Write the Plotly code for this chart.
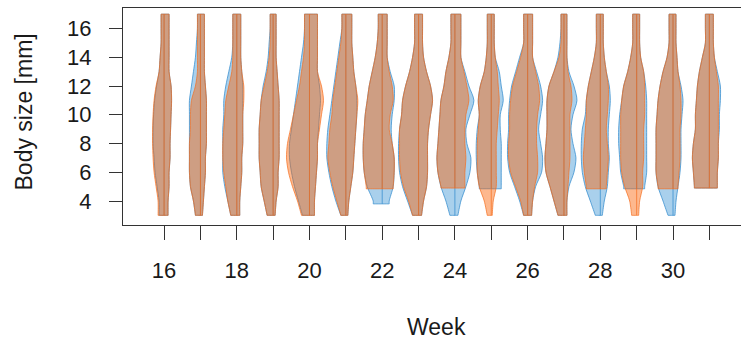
import plotly.graph_objects as go

# Weekly body-size distributions of two groups, drawn as overlapping violins.
WEEKS = list(range(16, 32))
SIZE_LEVELS = list(range(3, 18))          # body size [mm] at which densities are given
SIZE_MAX = 17

ORANGE_MIN = [3, 3, 3, 3, 3, 3, 4.85, 3, 4.9, 3, 3, 3, 4.85, 3, 4.85, 4.9]
BLUE_MIN = [3, 3, 3, 3, 3, 3, 3.8, 3, 3, 4.85, 3, 3, 3, 4.85, 3, 4.9]

# Density (arbitrary units) on the left / right side of each week's centre line.
ORANGE_LEFT = [
    [6, 6, 8, 10, 11, 11.5, 11.5, 11, 10, 8, 5, 4, 3, 3, 3],
    [5, 7, 10, 11, 11, 11, 10, 10, 9, 5, 3, 3, 3, 3, 3],
    [6, 9, 11, 13, 14, 14, 13, 12, 11, 8, 5, 4, 4, 4, 4],
    [6, 9, 12, 13, 14, 14, 14, 13, 12, 9, 6, 4, 3, 3, 3],
    [8, 12, 17, 21, 23, 22, 19, 16, 13, 10, 8, 6, 5, 5, 5],
    [5, 9, 13, 16, 18, 17, 16, 14, 13, 11, 9, 7, 5, 4, 4],
    [None, None, 16, 18, 19, 19, 18, 17, 15, 13, 10, 7, 5, 4, 4],
    [6, 10, 15, 18, 19, 19, 19, 17, 16, 13, 9, 6, 4, 4, 4],
    [None, None, 14, 17, 18, 17, 16, 15, 14, 11, 9, 6, 4, 4, 4],
    [4, 7, 12, 14, 14, 14, 13, 12, 13, 11, 7, 5, 4, 4, 4],
    [4, 7, 12, 17, 19, 19, 18, 18, 17, 15, 11, 7, 4, 4, 4],
    [6, 10, 14, 18, 19, 18, 17, 17, 17, 15, 10, 5, 3, 3, 3],
    [None, None, 14, 16, 17, 16, 15, 14, 14, 12, 9, 6, 4, 4, 4],
    [5, 7, 12, 15, 16, 16, 16, 16, 15, 13, 9, 6, 4, 4, 4],
    [None, None, 15, 17, 17, 17, 17, 16, 15, 13, 10, 6, 4, 4, 4],
    [None, None, 15, 16, 17, 16, 14, 14, 13, 12, 10, 7, 4, 4, 4],
]
ORANGE_RIGHT = [
    [4, 4, 5, 5, 6, 6, 6.5, 7, 7.5, 7, 5, 5, 5, 5, 5],
    [2, 3, 4, 5, 5, 6, 6, 6, 6, 5, 4, 4, 4, 4, 4],
    [3, 3, 4, 5, 5, 6, 6, 6, 7, 7, 5, 4, 4, 4, 4],
    [2, 3, 5, 5, 6, 6, 6, 6, 6, 5, 4, 3, 3, 3, 3],
    [5, 5, 6, 7, 8, 8, 10, 12, 14, 12, 8, 8, 8, 8, 8],
    [2, 3, 5, 7, 8, 9, 10, 11, 12, 10, 8, 7, 6, 6, 6],
    [None, None, 11, 12, 12, 10, 7, 8, 11, 10, 7, 5, 5, 5, 5],
    [3, 5, 8, 9, 9, 9, 10, 12, 14, 12, 8, 5, 4, 4, 4],
    [None, None, 10, 10, 11, 10, 10, 11, 14, 12, 9, 6, 6, 6, 6],
    [1, 2, 5, 5, 5, 5, 6, 7, 8, 7, 6, 4, 3, 3, 3],
    [4, 5, 7, 10, 10, 9, 9, 10, 12, 11, 8, 5, 5, 5, 5],
    [3, 3, 4, 5, 6, 6, 6, 6, 8, 7, 4, 3, 3, 3, 3],
    [None, None, 6, 7, 8, 7, 6, 7, 8, 8, 6, 4, 3, 3, 3],
    [2, 3, 6, 6, 7, 7, 7, 8, 8, 8, 7, 4, 3, 3, 3],
    [None, None, 5, 6, 7, 7, 7, 8, 8, 7, 5, 4, 3, 3, 3],
    [None, None, 8, 8, 9, 9, 9, 9, 9, 9, 7, 5, 4, 4, 4],
]
BLUE_LEFT = [
    [5, 5, 7, 9, 10, 11, 11, 10.5, 9.5, 7.5, 5, 4, 3, 3, 3],
    [5, 7, 10, 11, 11, 11, 11, 11, 11, 9, 7, 5, 4, 3, 3],
    [6, 9, 12, 14, 14, 14, 14, 13, 13, 11, 8, 5, 4, 4, 4],
    [6, 9, 12, 13, 14, 14, 14, 13, 12, 10, 7, 5, 4, 3, 3],
    [7, 11, 15, 18, 20, 20, 18, 16, 14, 12, 10, 8, 6, 5, 5],
    [5, 10, 14, 17, 19, 19, 18, 16, 14, 12, 10, 8, 6, 4, 4],
    [None, 9, 15, 18, 19, 19, 18, 17, 15, 13, 10, 7, 5, 4, 4],
    [6, 11, 16, 19, 20, 20, 19, 17, 16, 13, 9, 6, 4, 4, 4],
    [5, 9, 14, 17, 18, 17, 16, 15, 14, 11, 9, 6, 4, 4, 4],
    [None, None, 12, 14, 15, 15, 14, 12, 13, 11, 7, 5, 4, 4, 4],
    [4, 8, 13, 18, 20, 20, 19, 19, 18, 16, 12, 8, 4, 4, 4],
    [6, 10, 14, 18, 19, 18, 17, 17, 17, 15, 10, 6, 4, 3, 3],
    [5, 10, 15, 18, 19, 19, 18, 15, 14, 12, 9, 6, 4, 4, 4],
    [None, None, 13, 16, 17, 18, 18, 17, 15, 13, 9, 6, 4, 4, 4],
    [5, 10, 15, 17, 17, 17, 17, 16, 15, 13, 10, 6, 4, 4, 4],
    [None, None, 15, 16, 17, 16, 14, 14, 13, 12, 10, 7, 4, 4, 4],
]
BLUE_RIGHT = [
    [4, 4, 5, 5, 6, 6, 6.5, 7, 7.5, 7, 5, 5, 5, 5, 5],
    [2, 3, 4, 5, 5, 6, 6, 6, 6, 5, 4, 4, 4, 4, 4],
    [3, 3, 4, 5, 5, 6, 6, 6, 6, 6, 5, 4, 4, 4, 4],
    [2, 3, 5, 5, 6, 6, 6, 6, 6, 5, 4, 3, 3, 3, 3],
    [5, 5, 6, 7, 8, 8, 9, 10, 11, 10, 8, 8, 8, 8, 8],
    [2, 3, 5, 7, 8, 9, 10, 11, 11, 10, 8, 7, 6, 6, 6],
    [None, 7, 11, 12, 12, 10, 9, 10, 12, 12, 8, 5, 5, 5, 5],
    [3, 5, 8, 9, 9, 9, 10, 12, 14, 12, 8, 5, 4, 4, 4],
    [3, 6, 11, 15, 16, 12, 11, 15, 19, 14, 10, 6, 6, 6, 6],
    [None, None, 10, 10, 10, 10, 9, 9, 12, 10, 8, 4, 3, 3, 3],
    [4, 5, 8, 14, 15, 13, 11, 13, 15, 13, 9, 5, 5, 5, 5],
    [3, 3, 5, 10, 12, 9, 7, 9, 13, 10, 5, 3, 3, 3, 3],
    [2, 4, 7, 8, 9, 8, 8, 9, 10, 9, 6, 4, 3, 3, 3],
    [None, None, 8, 10, 10, 10, 10, 10, 10, 9, 7, 4, 3, 3, 3],
    [2, 3, 5, 7, 8, 8, 8, 9, 10, 8, 5, 4, 3, 3, 3],
    [None, None, 8, 8, 9, 9, 10, 10, 11, 11, 8, 5, 4, 4, 4],
]

WIDTH_SCALE = 1 / 36.35   # density units -> weeks on the x axis

GROUPS = [
    dict(left=BLUE_LEFT, right=BLUE_RIGHT, mins=BLUE_MIN,
         fill="rgba(64,151,213,0.45)", edge="rgba(52,140,205,0.75)"),
    dict(left=ORANGE_LEFT, right=ORANGE_RIGHT, mins=ORANGE_MIN,
         fill="rgba(251,97,4,0.45)", edge="rgba(245,110,30,0.7)"),
]


def side_path(week, left, right, ymin, ymax):
    """Left side bottom->top and right side top->bottom of one violin."""
    rows = [(y, l, r) for y, l, r in zip(SIZE_LEVELS, left, right)
            if l is not None and ymin <= y <= ymax]
    if rows[0][0] > ymin:
        rows.insert(0, (ymin, rows[0][1], rows[0][2]))
    lx = [week - l * WIDTH_SCALE for _, l, _ in rows]
    rx = [week + r * WIDTH_SCALE for _, _, r in rows]
    ys = [y for y, _, _ in rows]
    return lx, rx, ys


fig = go.Figure()
for g in GROUPS:
    for i, week in enumerate(WEEKS):
        lx, rx, ys = side_path(week, g["left"][i], g["right"][i], g["mins"][i], SIZE_MAX)
        # corners are doubled so the smoothed outline keeps flat ends
        xs = [lx[0]] + lx + [lx[-1], rx[-1]] + rx[::-1] + [rx[0], lx[0]]
        yy = [ys[0]] + ys + [ys[-1], ys[-1]] + ys[::-1] + [ys[0], ys[0]]
        fig.add_trace(go.Scatter(
            x=xs, y=yy, mode="lines", fill="toself", fillcolor=g["fill"],
            line=dict(color=g["edge"], width=1, shape="spline", smoothing=0.8),
            hoverinfo="skip", showlegend=False))
        fig.add_trace(go.Scatter(
            x=[week, week], y=[g["mins"][i], SIZE_MAX], mode="lines",
            line=dict(color=g["edge"], width=1),
            hoverinfo="skip", showlegend=False))

FONT = "Liberation Sans, Arial, Helvetica, sans-serif"
AXIS_COLOR = "#333333"

fig.update_layout(
    width=741, height=341, autosize=False,
    margin=dict(l=123, r=0, t=8, b=116, pad=0),
    paper_bgcolor="white", plot_bgcolor="white",
    font=dict(family=FONT, size=22, color="#1a1a1a"),
    xaxis=dict(
        range=[14.87, 31.87], tickmode="array", tickvals=WEEKS,
        ticktext=[str(w) if w % 2 == 0 else "" for w in WEEKS],
        ticks="outside", ticklen=14, tickwidth=1, tickcolor=AXIS_COLOR,
        showline=True, mirror=True, linecolor=AXIS_COLOR, linewidth=1,
        showgrid=False, zeroline=False, ticklabelstandoff=12,
        tickfont=dict(size=22),
    ),
    yaxis=dict(
        range=[2.33, 17.43], tickmode="array", tickvals=[4, 6, 8, 10, 12, 14, 16],
        ticks="outside", ticklen=13, tickwidth=1, tickcolor=AXIS_COLOR,
        showline=True, mirror=False, linecolor=AXIS_COLOR, linewidth=1,
        showgrid=False, zeroline=False, ticklabelstandoff=13,
        tickfont=dict(size=22),
    ),
    annotations=[
        dict(text="Week", xref="x", yref="paper", x=23.5, y=(225 - 327) / 217,
             xanchor="center", yanchor="middle", showarrow=False,
             font=dict(size=23, family=FONT, color="#1a1a1a")),
        dict(text="Body size [mm]", xref="paper", yref="paper",
             x=(23 - 123) / 618, y=(225 - 112.5) / 217, textangle=-90,
             xanchor="center", yanchor="middle", showarrow=False,
             font=dict(size=23, family=FONT, color="#1a1a1a")),
    ],
)

fig.write_html("out.html")
